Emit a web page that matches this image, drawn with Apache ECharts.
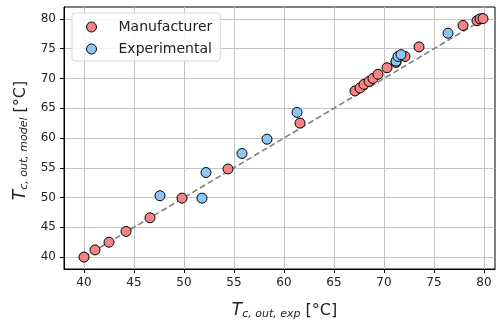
<!DOCTYPE html>
<html>
<head>
<meta charset="utf-8">
<script src="https://cdn.jsdelivr.net/npm/echarts@6/dist/echarts.min.js"></script>
<style>
  html, body { margin: 0; padding: 0; background: #fff; }
  #chart { width: 497px; height: 325px; }
</style>
</head>
<body>
<div id="chart"></div>
<script>
const manufX = [40.0, 41.1, 42.5, 44.2, 46.6, 49.8, 54.4, 61.6, 67.1, 67.6, 68.0, 68.5, 68.9, 69.4, 70.3, 71.2, 72.1, 73.5, 77.9, 79.3, 79.6, 79.9];
const manufY = [40.0, 41.2, 42.5, 44.3, 46.6, 49.9, 54.8, 62.5, 67.9, 68.4, 69.0, 69.5, 70.0, 70.7, 71.8, 72.7, 73.7, 75.3, 78.9, 79.7, 80.0, 80.05];
const expX = [47.6, 51.8, 52.2, 55.8, 58.3, 61.3, 71.2, 71.4, 71.7, 76.4];
const expY = [50.3, 49.9, 54.2, 57.4, 59.8, 64.3, 72.9, 73.7, 74.0, 77.6];
const identityLine = [40, 80];
const tickValues = [40, 45, 50, 55, 60, 65, 70, 75, 80];

const font = "DejaVu Sans";
const chart = echarts.init(document.getElementById("chart"));

const toPairs = (xs, ys) => xs.map((x, i) => [x, ys[i]]);

function axisCommon() {
  return {
    type: "value",
    axisLine: { show: true, onZero: false, lineStyle: { color: "#000", width: 1 } },
    axisTick: { show: true, length: 4, customValues: tickValues, lineStyle: { color: "#000", width: 1 } },
    axisLabel: { customValues: tickValues, color: "#222", fontSize: 12, fontFamily: font },
    splitLine: { show: true, lineStyle: { color: "#c4c4c4", width: 1 } },
    nameLocation: "middle",
  };
}

const rich = {
  t: { fontStyle: "italic", fontSize: 17, fontFamily: font, color: "#222" },
  s: { fontStyle: "italic", fontSize: 11, fontFamily: font, color: "#222", padding: [7, 0, 0, 0] },
  u: { fontSize: 16, fontFamily: font, color: "#222" },
};

const option = {
  animation: false,
  backgroundColor: "#fff",
  grid: {
    left: 64, right: 2, top: 7, bottom: 46,
    show: true, borderColor: "#000", borderWidth: 1,
  },
  legend: {
    data: ["Manufacturer", "Experimental"],
    orient: "vertical",
    left: 72, top: 13,
    itemWidth: 10, itemHeight: 10, itemGap: 8,
    padding: [7, 8, 5, 14],
    backgroundColor: "rgba(255,255,255,0.85)",
    borderColor: "#d6d6d6", borderWidth: 1, borderRadius: 3,
    itemStyle: { borderWidth: 1, borderColor: "#000" },
    textStyle: { fontSize: 14, fontFamily: font, color: "#222", padding: [0, 0, 0, 17] },
  },
  xAxis: Object.assign(axisCommon(), {
    min: 38, max: 81.1,
    name: "{t|T}{s|c, out, exp}{u| [°C]}",
    nameGap: 33,
    nameTextStyle: { rich: rich, padding: [0, 0, 0, 10] },
  }),
  yAxis: Object.assign(axisCommon(), {
    min: 38, max: 82,
    name: "{t|T}{s|c, out, model}{u| [°C]}",
    nameGap: 25,
    nameTextStyle: { rich: rich, padding: [0, 5, 0, 0] },
  }),
  series: [
    {
      name: "identity",
      type: "line",
      data: toPairs(identityLine, identityLine),
      showSymbol: false,
      symbol: "none",
      lineStyle: { color: "#808080", width: 1.6, type: [6, 3] },
      z: 1,
      silent: true,
    },
    {
      name: "Manufacturer",
      type: "scatter",
      data: toPairs(manufX, manufY),
      symbolSize: 10,
      itemStyle: { color: "#F28585", borderColor: "#000", borderWidth: 1, opacity: 1 },
      z: 2,
    },
    {
      name: "Experimental",
      type: "scatter",
      data: toPairs(expX, expY),
      symbolSize: 10,
      itemStyle: { color: "#8EC5F7", borderColor: "#000", borderWidth: 1, opacity: 1 },
      z: 3,
    },
  ],
};

chart.setOption(option);
</script>
</body>
</html>
